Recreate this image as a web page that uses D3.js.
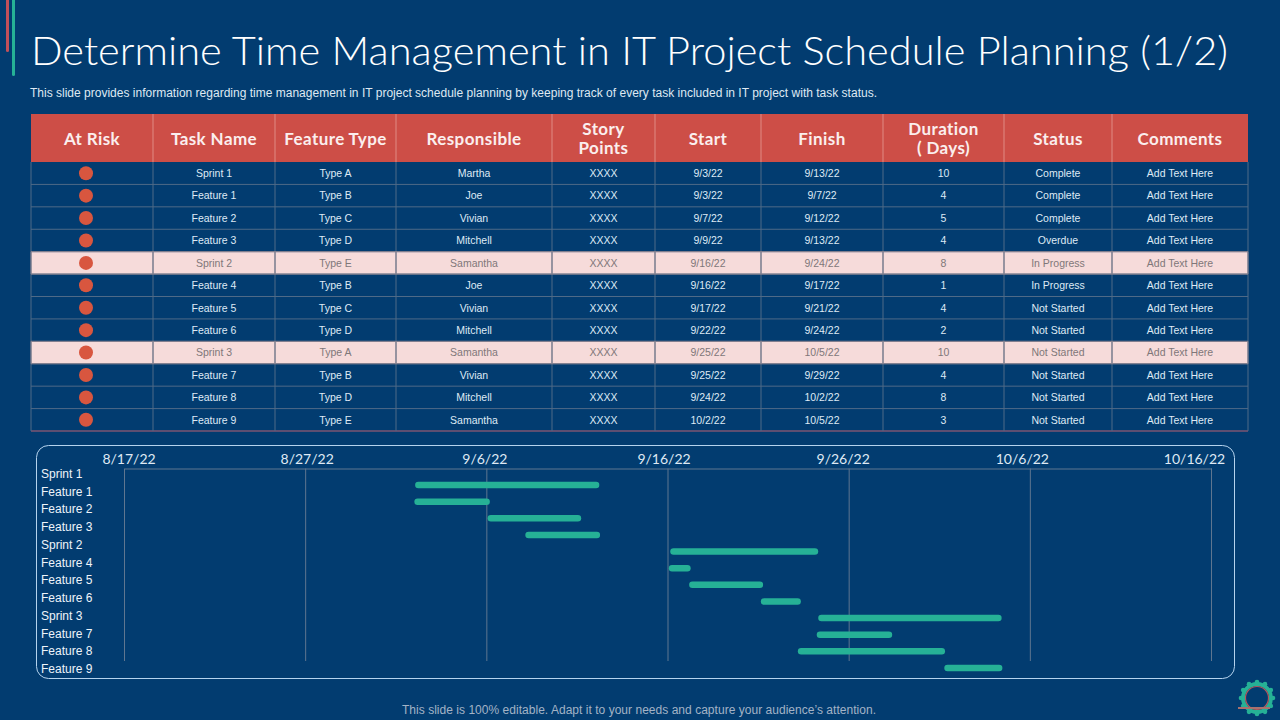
<!DOCTYPE html>
<html>
    <head>
        <title>Time Management</title>
        <meta charset="utf-8"/>
        <script src="https://d3js.org/d3.v7.min.js"></script>
        <style>
            html, body { margin: 0; padding: 0; background: #023c70; }
            svg { display: block; }
        </style>
    </head>
    <body>
        <div id="output"></div>
        <script>
            //Table data
            var headers = [["At Risk"], ["Task Name"], ["Feature Type"], ["Responsible"], ["Story", "Points"], ["Start"], ["Finish"], ["Duration", "( Days)"], ["Status"], ["Comments"]];
            var tasks = ["Sprint 1", "Feature 1", "Feature 2", "Feature 3", "Sprint 2", "Feature 4", "Feature 5", "Feature 6", "Sprint 3", "Feature 7", "Feature 8", "Feature 9"];
            var types = ["Type A", "Type B", "Type C", "Type D", "Type E", "Type B", "Type C", "Type D", "Type A", "Type B", "Type D", "Type E"];
            var owners = ["Martha", "Joe", "Vivian", "Mitchell", "Samantha", "Joe", "Vivian", "Mitchell", "Samantha", "Vivian", "Mitchell", "Samantha"];
            var starts = ["9/3/22", "9/3/22", "9/7/22", "9/9/22", "9/16/22", "9/16/22", "9/17/22", "9/22/22", "9/25/22", "9/25/22", "9/24/22", "10/2/22"];
            var finishes = ["9/13/22", "9/7/22", "9/12/22", "9/13/22", "9/24/22", "9/17/22", "9/21/22", "9/24/22", "10/5/22", "9/29/22", "10/2/22", "10/5/22"];
            var durations = [10, 4, 5, 4, 8, 1, 4, 2, 10, 4, 8, 3];
            var statuses = ["Complete", "Complete", "Complete", "Overdue", "In Progress", "In Progress", "Not Started", "Not Started", "Not Started", "Not Started", "Not Started", "Not Started"];
            var sprintRows = ["Sprint 2", "Sprint 3"];

            //Gantt data (they do not quite line up with the table dates)
            var axisDates = ["8/17/22", "8/27/22", "9/6/22", "9/16/22", "9/26/22", "10/6/22", "10/16/22"];
            var barStarts = ["9/2/22 01:00", "9/2/22 00:00", "9/6/22 01:00", "9/8/22 03:00", "9/16/22 03:00", "9/16/22 01:00", "9/17/22 04:00", "9/21/22 03:00", "9/24/22 07:00", "9/24/22 05:00", "9/23/22 04:00", "10/1/22 06:00"];
            var barEnds = ["9/12/22 05:00", "9/6/22 04:00", "9/11/22 05:00", "9/12/22 06:00", "9/24/22 07:00", "9/17/22 06:00", "9/21/22 06:00", "9/23/22 08:00", "10/4/22 10:00", "9/28/22 09:00", "10/1/22 07:00", "10/4/22 11:00"];

            var parseDay = d3.timeParse("%-m/%-d/%y");
            var parseHour = d3.timeParse("%-m/%-d/%y %H:%M");

            var textFont = "'Liberation Sans', Arial, sans-serif";
            var headFont = "Lato, sans-serif";

            var svg = d3.select("#output").append("svg")
                .attr("width", 1280)
                .attr("height", 720);

            svg.append("rect").attr("width", 1280).attr("height", 720).attr("fill", "#023c70");

            //Accent lines top left
            svg.append("rect").attr("x", 6).attr("y", -3).attr("width", 3).attr("height", 55).attr("rx", 1.5).attr("fill", "#c0505a");
            svg.append("rect").attr("x", 12).attr("y", -3).attr("width", 3).attr("height", 79).attr("rx", 1.5).attr("fill", "#26b196");

            //Title, stretched to the width of the original wide font
            svg.append("text")
                .attr("x", 31).attr("y", 65)
                .attr("textLength", 1197)
                .attr("lengthAdjust", "spacingAndGlyphs")
                .style("font-family", headFont)
                .style("font-weight", 300)
                .style("font-size", "39px")
                .attr("fill", "#ffffff")
                .text("Determine Time Management in IT Project Schedule Planning (1/2)");

            svg.append("text")
                .attr("x", 30).attr("y", 97)
                .attr("textLength", 847)
                .attr("lengthAdjust", "spacing")
                .style("font-family", textFont)
                .style("font-size", "12px")
                .attr("fill", "#dfe9f3")
                .text("This slide provides information regarding time management in IT project schedule planning by keeping track of every task included in IT project with task status.");

            //Table scales
            var colEdges = [31, 153, 275, 396, 552, 655, 761, 883, 1004, 1112, 1248];
            var rowY = d3.scaleBand().domain(tasks).range([162, 431]);
            var colCenter = function(i) { return (colEdges[i] + colEdges[i + 1]) / 2; };

            var tableG = svg.append("g");

            //Header
            tableG.append("rect")
                .attr("x", colEdges[0]).attr("y", 114)
                .attr("width", colEdges[10] - colEdges[0]).attr("height", 48)
                .attr("fill", "#cd4e47");

            headers.forEach(function(lines, i) {
                var t = tableG.append("text")
                    .attr("text-anchor", "middle")
                    .style("font-family", headFont)
                    .style("font-weight", 700)
                    .style("font-size", "17px")
                    .style("letter-spacing", "0.4px")
                    .attr("fill", "#fbeeee");
                lines.forEach(function(line, j) {
                    t.append("tspan")
                        .attr("x", colCenter(i))
                        .attr("y", 144.5 + (j - (lines.length - 1) / 2) * 19)
                        .text(line);
                });
            });

            //Pink sprint rows
            tableG.selectAll(".sprint")
                .data(sprintRows)
                .enter().append("rect")
                .attr("x", colEdges[0]).attr("width", colEdges[10] - colEdges[0])
                .attr("y", function(d) { return rowY(d); })
                .attr("height", rowY.bandwidth())
                .attr("fill", "#f6dbda");

            //Grid lines
            tableG.selectAll(".rowline")
                .data(tasks)
                .enter().append("line")
                .attr("x1", colEdges[0]).attr("x2", colEdges[10])
                .attr("y1", function(d) { return rowY(d) + rowY.bandwidth(); })
                .attr("y2", function(d) { return rowY(d) + rowY.bandwidth(); })
                .attr("stroke", function(d, i) { return i == tasks.length - 1 ? "#7c5472" : "#4f6a87"; })
                .attr("stroke-width", function(d, i) { return i == tasks.length - 1 ? 1.5 : 1; });

            colEdges.forEach(function(x, i) {
                if (i > 0 && i < 10) {
                    tableG.append("line")
                        .attr("x1", x).attr("x2", x).attr("y1", 114).attr("y2", 162)
                        .attr("stroke", "#e08a84").attr("stroke-width", 1);
                }
                tableG.append("line")
                    .attr("x1", x).attr("x2", x).attr("y1", 162).attr("y2", 431)
                    .attr("stroke", "#4f6a87").attr("stroke-width", 1);
                //Separators show darker on the pink rows
                sprintRows.forEach(function(s) {
                    tableG.append("line")
                        .attr("x1", x).attr("x2", x)
                        .attr("y1", rowY(s)).attr("y2", rowY(s) + rowY.bandwidth())
                        .attr("stroke", "#8b8390").attr("stroke-width", 1);
                });
            });
            sprintRows.forEach(function(s) {
                [rowY(s), rowY(s) + rowY.bandwidth()].forEach(function(y) {
                    tableG.append("line")
                        .attr("x1", colEdges[0]).attr("x2", colEdges[10])
                        .attr("y1", y).attr("y2", y)
                        .attr("stroke", "#8b8390").attr("stroke-width", 1);
                });
            });

            //Cells
            var columns = [null, tasks, types, owners, tasks.map(function() { return "XXXX"; }), starts, finishes, durations, statuses, tasks.map(function() { return "Add Text Here"; })];

            tasks.forEach(function(task, r) {
                var isSprint = sprintRows.indexOf(task) >= 0;
                var cy = rowY(task) + rowY.bandwidth() / 2;
                tableG.append("circle")
                    .attr("cx", 86).attr("cy", cy).attr("r", 7)
                    .attr("fill", "#d8563f");
                for (var c = 1; c < columns.length; c++) {
                    tableG.append("text")
                        .attr("x", colCenter(c)).attr("y", cy + 3.8)
                        .attr("text-anchor", "middle")
                        .style("font-family", textFont)
                        .style("font-size", "10.5px")
                        .attr("fill", isSprint ? "#7f7779" : "#dfeaf5")
                        .text(columns[c][r]);
                }
            });

            //Gantt panel
            svg.append("rect")
                .attr("x", 36.5).attr("y", 445.5)
                .attr("width", 1198).attr("height", 233)
                .attr("rx", 12)
                .attr("fill", "none")
                .attr("stroke", "#b5d3ee").attr("stroke-width", 1);

            var ganttMargin = {top: 468.5, bottom: 661, left: 124.5, right: 1211.5};
            var x = d3.scaleTime()
                .domain([parseDay(axisDates[0]), parseDay(axisDates[axisDates.length - 1])])
                .range([ganttMargin.left, ganttMargin.right]);

            var axis = svg.append("g")
                .attr("transform", "translate(0," + ganttMargin.top + ")")
                .call(d3.axisTop(x)
                    .tickValues(axisDates.map(parseDay))
                    .tickFormat(d3.timeFormat("%-m/%-d/%y"))
                    .tickSize(0)
                    .tickPadding(5));
            axis.select(".domain").attr("stroke", "#5f7690");
            //The labels sit a little off their gridlines in the reference
            var labelNudge = [4, 1, -2.5, -4.5, -6.5, -8.5, -17.5];
            axis.selectAll("text")
                .attr("fill", "#dfe9f4")
                .style("font-family", headFont)
                .style("font-size", "14px")
                .attr("dx", function(d, i) { return labelNudge[i]; });

            //Vertical gridlines
            svg.append("g").selectAll("line")
                .data(axisDates.map(parseDay))
                .enter().append("line")
                .attr("x1", function(d) { return x(d); })
                .attr("x2", function(d) { return x(d); })
                .attr("y1", ganttMargin.top).attr("y2", ganttMargin.bottom)
                .attr("stroke", "#5f7690").attr("stroke-width", 1);

            //Row labels and bars run on slightly different spacing in the reference
            var labelY = d3.scalePoint().domain(tasks).range([478, 673]);
            var barY = d3.scalePoint().domain(tasks).range([485, 668]);

            svg.append("g").selectAll("text")
                .data(tasks)
                .enter().append("text")
                .attr("x", 41).attr("y", function(d) { return labelY(d); })
                .style("font-family", textFont)
                .style("font-size", "12px")
                .attr("fill", "#eef4fa")
                .text(function(d) { return d; });

            svg.append("g").selectAll("rect")
                .data(tasks)
                .enter().append("rect")
                .attr("x", function(d, i) { return x(parseHour(barStarts[i])); })
                .attr("width", function(d, i) { return x(parseHour(barEnds[i])) - x(parseHour(barStarts[i])); })
                .attr("y", function(d) { return barY(d) - 3.25; })
                .attr("height", 6.5)
                .attr("rx", 3.25)
                .attr("fill", "#26b196");

            //Footer
            svg.append("text")
                .attr("x", 402).attr("y", 714)
                .attr("textLength", 474)
                .style("font-family", textFont)
                .style("font-size", "12px")
                .attr("fill", "#a3b3c6")
                .text("This slide is 100% editable. Adapt it to your needs and capture your audience\u2019s attention.");

            //Gear icon bottom right
            var gear = svg.append("g").attr("transform", "translate(1257,698)");
            gear.selectAll("circle.tooth")
                .data(d3.range(12))
                .enter().append("circle")
                .attr("cx", function(d) { return 16 * Math.cos(d * Math.PI / 6); })
                .attr("cy", function(d) { return 16 * Math.sin(d * Math.PI / 6); })
                .attr("r", 2.3)
                .attr("fill", "#26b196");
            gear.append("circle").attr("r", 14).attr("fill", "none").attr("stroke", "#26b196").attr("stroke-width", 4);
            gear.append("circle").attr("r", 11.5).attr("fill", "none").attr("stroke", "#b5565c").attr("stroke-width", 1.2);
            gear.append("line").attr("x1", -19).attr("x2", 13).attr("y1", 10).attr("y2", 10).attr("stroke", "#a8716e").attr("stroke-width", 2);
        </script>
    </body>
</html>
